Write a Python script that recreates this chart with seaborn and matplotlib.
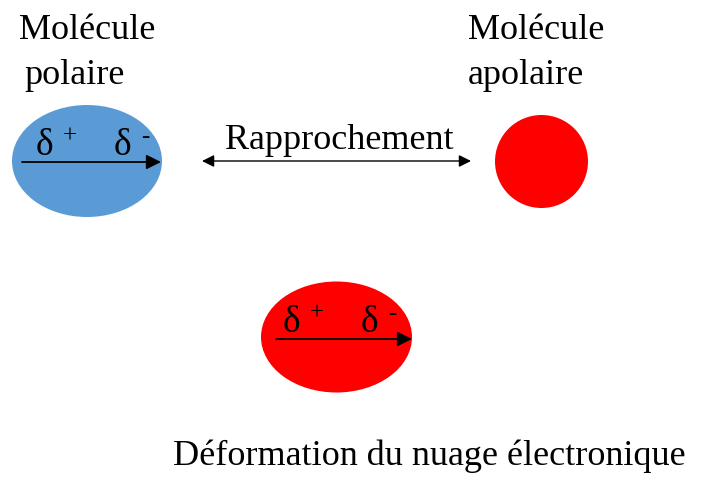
import matplotlib
matplotlib.use("Agg")
import matplotlib.pyplot as plt
from matplotlib.patches import Ellipse, Circle
import seaborn as sns

# --- textes du schéma ---
titre_polaire = ["Molécule", "polaire"]
titre_apolaire = ["Molécule", "apolaire"]
label_fleche = "Rapprochement"
label_bas = "Déformation du nuage électronique"
charges = ["δ", "+", "δ", "-"]

# couleurs
BLEU = "#5B9BD5"
ROUGE = "#FF0000"

sns.set_style("white")
plt.rcParams['font.family'] = ['Liberation Serif', 'DejaVu Serif']
plt.rcParams['text.color'] = 'black'

fig = plt.figure(figsize=(7.06, 4.80), dpi=100)
ax = fig.add_axes([0, 0, 1, 1])
ax.set_xlim(0, 706)
ax.set_ylim(480, 0)
ax.set_aspect('equal')
ax.axis('off')

FS = 26

# titres en haut
for i, t in enumerate(titre_polaire):
    ax.text(19 if i == 0 else 24, 39 + 45 * i, t, fontsize=FS, ha='left', va='baseline')
for i, t in enumerate(titre_apolaire):
    ax.text(468, 39 + 45 * i, t, fontsize=FS, ha='left', va='baseline')

# molécule polaire (bleue)
ax.add_patch(Ellipse((87, 161), 150, 112, facecolor=BLEU, edgecolor='none'))
# molécule apolaire (rouge)
ax.add_patch(Circle((541.5, 161.5), 46.5, facecolor=ROUGE, edgecolor='none'))
# molécule déformée
ax.add_patch(Ellipse((336.5, 337), 151, 111, facecolor=ROUGE, edgecolor='none'))


def dipole(x0, x1, y, dx):
    # flèche du dipôle + charges partielles
    ax.annotate("", xy=(x1, y), xytext=(x0, y),
                arrowprops=dict(arrowstyle='-|>', color='black', lw=1.3,
                                mutation_scale=22, shrinkA=0, shrinkB=0))
    ax.text(x0 + dx, y - 7, charges[0], fontsize=FS + 1, ha='left', va='baseline')
    ax.text(x0 + dx + 27, y - 25, charges[1], fontsize=18, ha='left', va='center')
    ax.text(x0 + dx + 78, y - 7, charges[2], fontsize=FS + 1, ha='left', va='baseline')
    ax.text(x0 + dx + 105, y - 25, charges[3], fontsize=18, ha='left', va='center')


dipole(22, 161, 162, 14)
dipole(276, 412, 339, 7)

# flèche de rapprochement
ax.annotate("", xy=(471, 161), xytext=(202, 161),
            arrowprops=dict(arrowstyle='<|-|>', color='black', lw=1.0,
                            mutation_scale=18, shrinkA=0, shrinkB=0))
ax.text(225, 149, label_fleche, fontsize=FS, ha='left', va='baseline')

# légende du bas
ax.text(173, 465, label_bas, fontsize=FS, ha='left', va='baseline')

fig.savefig("out.png", dpi=100)
